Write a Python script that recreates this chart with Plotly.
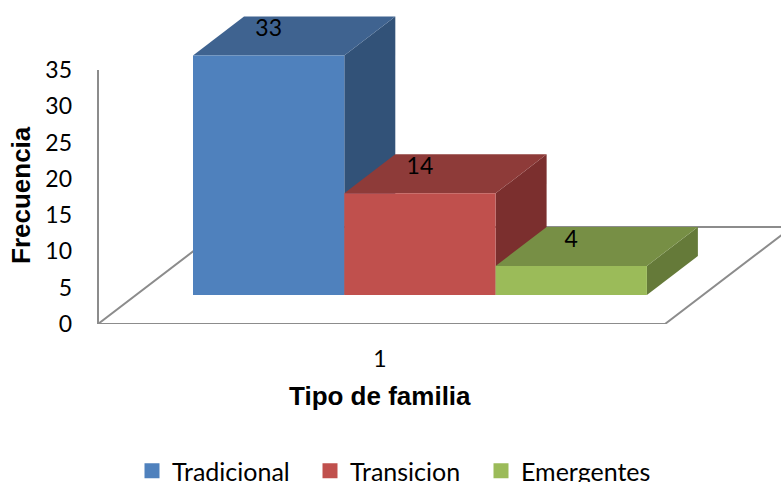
import plotly.graph_objects as go

# Data
series_names = ["Tradicional", "Transicion", "Emergentes"]
series_values = [33, 14, 4]
x_tick_labels = ["1"]
y_ticks = [0, 5, 10, 15, 20, 25, 30, 35]

# Colours
front_colors = ["#4F81BD", "#C0504D", "#9BBB59"]
top_colors = ["#3F6390", "#8E3B39", "#778F45"]
side_colors = ["#325278", "#7B2F2E", "#657A39"]
floor_color = "#8C8C8C"
FONT = "Lato, Carlito, sans-serif"
TITLE_FONT = "Liberation Sans, Arial, sans-serif"

# Pseudo-3D projection, in axis units
W, H = 781, 482
PLOT_L, PLOT_T, PLOT_B = 90, 8, 324
PX_PER_Y = 254 / 35
PX_PER_X = 151.3
X0_PX = 268.65                # pixel of category 0
x_min = (PLOT_L - X0_PX) / PX_PER_X
x_max = (W - X0_PX) / PX_PER_X
y_max = (PLOT_B - PLOT_T) / PX_PER_Y
BASE = 4.0                    # raised front baseline of the bars
BAR_DX, BAR_DY = 51 / PX_PER_X, 39 / PX_PER_Y
FLOOR_L = (98 - X0_PX) / PX_PER_X
FLOOR_R = (665 - X0_PX) / PX_PER_X
FLOOR_DX, FLOOR_DY = 127 / PX_PER_X, 97 / PX_PER_Y

fig = go.Figure()

# Floor and wall
fig.add_trace(go.Scatter(
    x=[FLOOR_L, FLOOR_R, FLOOR_R + FLOOR_DX, FLOOR_L + FLOOR_DX, FLOOR_L, FLOOR_L],
    y=[0, 0, FLOOR_DY, FLOOR_DY, 0, 35],
    mode="lines", line=dict(color=floor_color, width=2),
    showlegend=False, hoverinfo="skip"))


def face(xs, ys, color, name=None):
    fig.add_trace(go.Scatter(
        x=xs, y=ys, mode="lines", line=dict(width=0), fill="toself", fillcolor=color,
        name=name, showlegend=False, hoverinfo="skip"))


for i, (name, v) in enumerate(zip(series_names, series_values)):
    l, r = i - 0.5, i + 0.5
    top = BASE + v
    face([r, r + BAR_DX, r + BAR_DX, r, r],
         [BASE, BASE + BAR_DY, top + BAR_DY, top, BASE], side_colors[i])
    face([l, r, r + BAR_DX, l + BAR_DX, l],
         [top, top, top + BAR_DY, top + BAR_DY, top], top_colors[i])
    face([l, r, r, l, l], [BASE, BASE, top, top, BASE], front_colors[i], name)

# Data labels
for i, v in enumerate(series_values):
    fig.add_trace(go.Scatter(
        x=[i], y=[BASE + v + 0.64 * BAR_DY], mode="text", text=[str(v)],
        textposition="middle center", textfont=dict(family=FONT, size=23, color="black"),
        showlegend=False, hoverinfo="skip"))

# Legend entries
legend_ids = ["legend", "legend2", "legend3"]
legend_left = [132, 310, 481]
for i, name in enumerate(series_names):
    fig.add_trace(go.Scatter(
        x=[None], y=[None], mode="markers", name=name, legend=legend_ids[i],
        marker=dict(symbol="square", size=15, color=front_colors[i])))

layout_legends = {
    lid: dict(
        xref="container", yref="container", x=legend_left[i] / W, y=1 - 448 / H,
        xanchor="left", yanchor="top", orientation="h",
        bgcolor="rgba(0,0,0,0)", borderwidth=0,
        font=dict(family=FONT, size=25, color="black"))
    for i, lid in enumerate(legend_ids)
}

fig.update_layout(
    width=W, height=H, autosize=False, plot_bgcolor="white", paper_bgcolor="white",
    margin=dict(l=PLOT_L, r=0, t=PLOT_T, b=H - PLOT_B),
    xaxis=dict(range=[x_min, x_max], showgrid=False, zeroline=False, showline=False,
               tickmode="array", tickvals=[(380 - X0_PX) / PX_PER_X], ticktext=x_tick_labels,
               ticks="", ticklabelstandoff=19, tickfont=dict(family=FONT, size=23, color="black")),
    yaxis=dict(range=[0, y_max], showgrid=False, zeroline=False, showline=False,
               tickmode="array", tickvals=y_ticks, ticks="", ticklabelstandoff=17,
               tickfont=dict(family=FONT, size=23, color="black")),
    annotations=[
        dict(text="<b>Frecuencia</b>", xref="paper", yref="paper",
             x=(21 - PLOT_L) / (W - PLOT_L), y=(PLOT_B - 195) / (PLOT_B - PLOT_T),
             textangle=-90, showarrow=False, xanchor="center", yanchor="middle",
             font=dict(family=TITLE_FONT, size=26, color="black")),
        dict(text="<b>Tipo de familia</b>", xref="paper", yref="paper",
             x=(380 - PLOT_L) / (W - PLOT_L), y=(PLOT_B - 396) / (PLOT_B - PLOT_T),
             showarrow=False, xanchor="center", yanchor="middle",
             font=dict(family=TITLE_FONT, size=26, color="black")),
    ],
    **layout_legends)

fig.write_html("out.html", config={"displayModeBar": False},
               post_script="document.body.style.margin='0';")
